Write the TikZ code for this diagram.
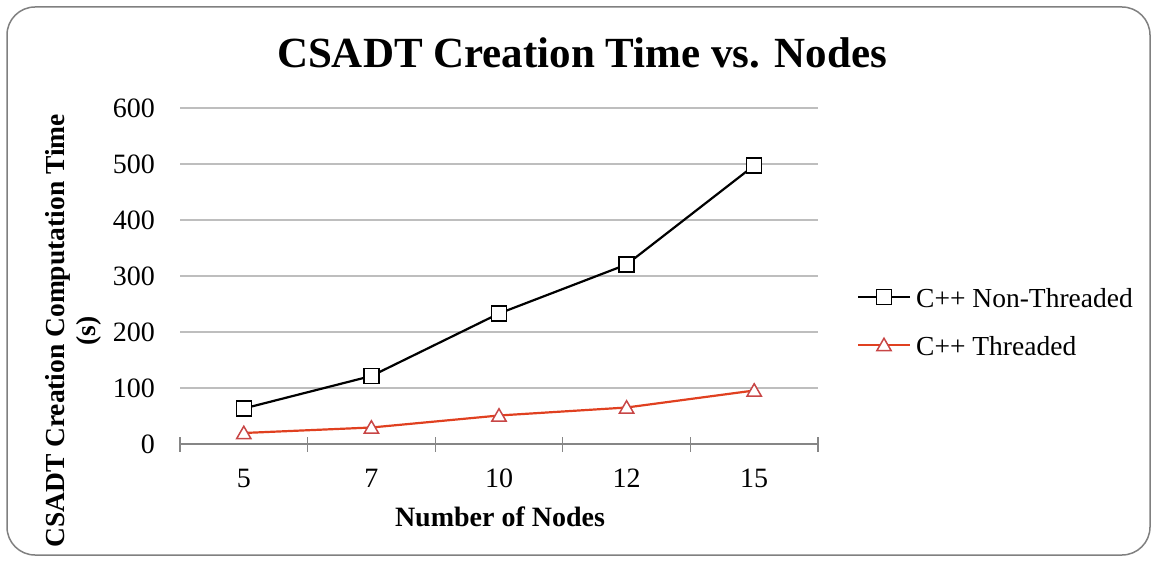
\documentclass[tikz,border=0pt]{standalone}
\usepackage{fontspec}
\setmainfont{Liberation Serif}
\usetikzlibrary{shapes.geometric,calc}
\definecolor{gridgray}{RGB}{190,190,190}
\definecolor{axisgray}{RGB}{134,134,134}
\definecolor{framegray}{RGB}{128,128,128}
\definecolor{threadred}{RGB}{224,64,32}
\definecolor{markred}{RGB}{200,70,70}
\begin{document}
\begin{tikzpicture}[x=1pt,y=-1pt,
  grid/.style={draw=gridgray,line width=1.3pt},
  axisline/.style={draw=axisgray,line width=1.3pt},
  ticklbl/.style={font=\fontsize{28}{30}\selectfont,inner sep=0pt},
  sqmark/.style={draw=black,fill=white,line width=1.5pt,minimum size=15pt,inner sep=0pt,rectangle},
  trimark/.style={draw=markred,fill=white,line width=1.5pt,regular polygon,regular polygon sides=3,minimum size=16.5pt,inner sep=0pt},
  blackline/.style={draw=black,line width=2.2pt},
  redline/.style={draw=threadred,line width=2.2pt},
  legtext/.style={font=\fontsize{27.5}{30}\selectfont,anchor=west,inner sep=0pt}]
\useasboundingbox (0,0) rectangle (1157,561);
% chart frame
\draw[framegray,line width=1.5pt,rounded corners=28pt] (7,7) rectangle (1150,555);
% title
\node[font=\bfseries\fontsize{43}{46}\selectfont] (title) at (582,53) {CSADT Creation Time vs. Nodes};
% horizontal grid lines and value labels
\foreach \v/\yy in {100/388,200/332,300/276,400/220,500/164,600/108}{
  \draw[grid] (180,\yy) -- (818,\yy);
  \node[ticklbl,anchor=east] (y\v) at (155,\yy) {\v};
}
\node[ticklbl,anchor=east] (y0) at (155,444) {0};
% category axis with ticks
\draw[axisline] (180,444) -- (818,444);
\foreach \xx in {180,307.6,435.2,562.8,690.4,818}{
  \draw[axisline] (\xx,437) -- (\xx,452);
}
\foreach \c/\xx in {5/243.8,7/371.4,10/499,12/626.6,15/754.2}{
  \node[ticklbl] (x\c) at (\xx,478) {\c};
}
% axis titles
\node[font=\bfseries\fontsize{28}{30}\selectfont] (xtitle) at (500,517) {Number of Nodes};
\node[font=\bfseries\fontsize{27.5}{31}\selectfont,rotate=90,align=center] (ytitle) at (73,331) {CSADT Creation Computation Time\\(s)};
% data series: non-threaded
\coordinate (a1) at (243.8,408.5);
\coordinate (a2) at (371.4,376);
\coordinate (a3) at (499,313.5);
\coordinate (a4) at (626.6,264.5);
\coordinate (a5) at (754.2,165.5);
\draw[blackline] (a1) -- (a2) -- (a3) -- (a4) -- (a5);
\foreach \p in {a1,a2,a3,a4,a5}{ \node[sqmark] (m\p) at (\p) {}; }
% data series: threaded
\coordinate (b1) at (243.8,433);
\coordinate (b2) at (371.4,427.5);
\coordinate (b3) at (499,415.5);
\coordinate (b4) at (626.6,407.5);
\coordinate (b5) at (754.2,390.5);
\draw[redline] (b1) -- (b2) -- (b3) -- (b4) -- (b5);
\foreach \p in {b1,b2,b3,b4,b5}{ \node[trimark] (m\p) at ($(\p)+(0,1.5)$) {}; }
% legend
\coordinate (la) at (858,297);
\coordinate (lb) at (910,297);
\draw[blackline] (la) -- (lb);
\node[sqmark] (lm1) at (884,297) {};
\node[legtext] (lt1) at (916,298) {C++ Non-Threaded};
\coordinate (lc) at (858,345);
\coordinate (ld) at (910,345);
\draw[redline] (lc) -- (ld);
\node[trimark] (lm2) at (884,346.5) {};
\node[legtext] (lt2) at (916,346) {C++ Threaded};
\end{tikzpicture}
\end{document}
